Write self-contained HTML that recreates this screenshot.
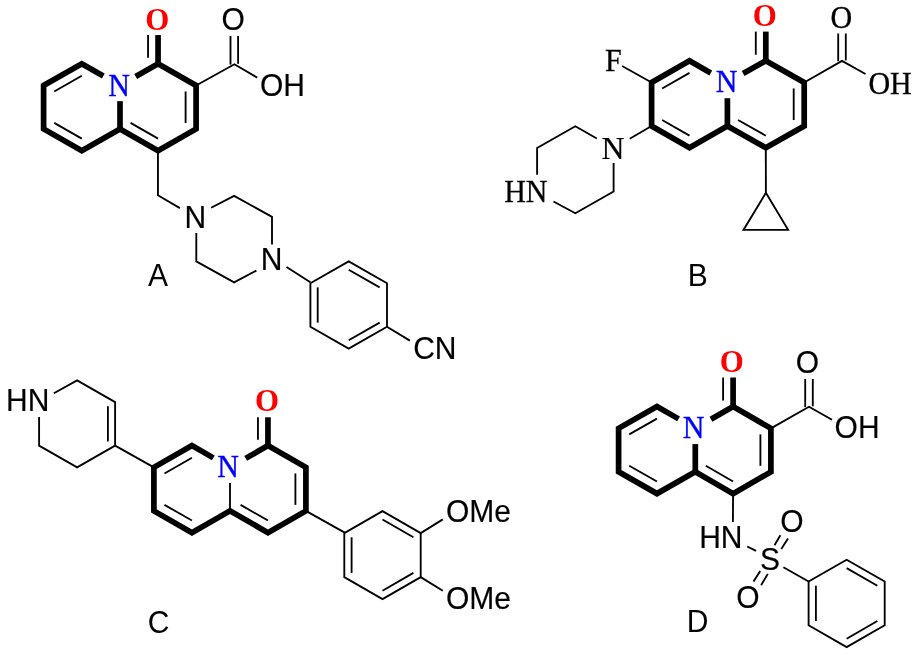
<!DOCTYPE html>
<html><head><meta charset="utf-8"><style>
html,body{margin:0;padding:0;background:#fff;}
body{width:919px;height:655px;overflow:hidden;}
svg{display:block;will-change:transform;}
path{fill:none;stroke:#000;stroke-linecap:butt;}
</style></head><body>
<svg width="919" height="655" viewBox="0 0 919 655">
<path d="M103.31 75.95 L81.8 63.7 L43.6 85.45 L43.6 128.95 L81.8 150.7 L120 128.95 L158.05 150.7 L196.1 128.95 L196.1 85.45 L158.05 63.7 L135.71 76.47" stroke-width="5.7" stroke-linejoin="miter"/>
<path d="M158.05 63.7 L158.05 35.05" stroke-width="5.7" stroke-linejoin="miter"/>
<path d="M120 101.15 L120 128.95" stroke-width="5.7" stroke-linejoin="miter"/>
<path d="M54.21 91.49 L81.8 75.78" stroke-width="1.85" stroke-linejoin="miter"/>
<path d="M54.21 122.91 L81.8 138.62" stroke-width="1.85" stroke-linejoin="miter"/>
<path d="M185.6 91.45 L185.6 122.95" stroke-width="1.85" stroke-linejoin="miter"/>
<path d="M130.58 122.9 L158.05 138.61" stroke-width="1.85" stroke-linejoin="miter"/>
<path d="M148.05 35.05 L148.05 57.7" stroke-width="1.85" stroke-linejoin="miter"/>
<text x="145.23" y="29.72" font-family="'Liberation Serif', serif" font-size="30.9" font-weight="bold" fill="#ff0000">O</text>
<text transform="translate(108.33 95.71) scale(1 1.0600)" font-family="'Liberation Serif', serif" font-size="30" fill="#0000ff" stroke="#0000ff" stroke-width="0.35">N</text>
<path d="M196.1 85.45 L234.4 64.3 L257.2 77.6" stroke-width="1.85" stroke-linejoin="miter"/>
<path d="M230.5 35.9 L230.5 64.6" stroke-width="1.85" stroke-linejoin="miter"/>
<path d="M238.1 35.9 L238.1 63.8" stroke-width="1.85" stroke-linejoin="miter"/>
<text transform="translate(221.59 30.48) scale(1 1.0300)" font-family="'Liberation Sans', sans-serif" font-size="30" fill="#000" stroke="#000" stroke-width="0.15">O</text>
<text transform="translate(260.01 96.13) scale(1 1.0300)" font-family="'Liberation Sans', sans-serif" font-size="30" fill="#000" stroke="#000" stroke-width="0.15">OH</text>
<path d="M157.95 150.7 L157.95 195.3 L179.9 208.1" stroke-width="1.85" stroke-linejoin="miter"/>
<text transform="translate(184.43 227.68) scale(1 1.0300)" font-family="'Liberation Sans', sans-serif" font-size="30" fill="#000" stroke="#000" stroke-width="0.15">N</text>
<path d="M211.1 207.7 L234.1 195.9 L272 216.9 L272 244.6" stroke-width="1.85" stroke-linejoin="miter"/>
<path d="M256.4 270.6 L234.1 282.4 L196.3 261.4 L196.3 232.9" stroke-width="1.85" stroke-linejoin="miter"/>
<text transform="translate(260.65 270.35) scale(1 1.0300)" font-family="'Liberation Sans', sans-serif" font-size="30" fill="#000" stroke="#000" stroke-width="0.15">N</text>
<path d="M286.5 267 L310.4 282.2" stroke-width="1.85" stroke-linejoin="miter"/>
<path d="M348.7 261.4 L387 283.2 L387 326.8 L348.7 348.6 L310.4 326.8 L310.4 283.2 Z" stroke-width="1.85" stroke-linejoin="miter"/>
<path d="M317.7 287.36 L317.7 322.64" stroke-width="1.85" stroke-linejoin="miter"/>
<path d="M348.7 269.8 L379.62 287.4" stroke-width="1.85" stroke-linejoin="miter"/>
<path d="M379.62 322.6 L348.7 340.2" stroke-width="1.85" stroke-linejoin="miter"/>
<path d="M386.95 326.8 L409.9 340.6" stroke-width="1.85" stroke-linejoin="miter"/>
<text transform="translate(413.14 359.23) scale(1 1.0300)" font-family="'Liberation Sans', sans-serif" font-size="30" fill="#000" stroke="#000" stroke-width="0.15">CN</text>
<text transform="translate(148.12 285.78) scale(1 1.0300)" font-family="'Liberation Sans', sans-serif" font-size="30" fill="#000">A</text>
<path d="M710.75 72.94 L689.5 60.75 L651.6 82.5 L651.6 126 L689.5 147.75 L727.4 126 L765.8 147.75 L804.2 126 L804.2 82.5 L765.8 60.75 L743.15 73.58" stroke-width="5.7" stroke-linejoin="miter"/>
<path d="M765.8 60.75 L765.8 31.6" stroke-width="5.7" stroke-linejoin="miter"/>
<path d="M727.4 98.2 L727.4 126" stroke-width="5.7" stroke-linejoin="miter"/>
<path d="M662.15 88.55 L689.5 72.86" stroke-width="1.85" stroke-linejoin="miter"/>
<path d="M662.15 119.95 L689.5 135.64" stroke-width="1.85" stroke-linejoin="miter"/>
<path d="M793.7 88.45 L793.7 120.05" stroke-width="1.85" stroke-linejoin="miter"/>
<path d="M738.05 119.97 L765.8 135.68" stroke-width="1.85" stroke-linejoin="miter"/>
<path d="M755.8 31.6 L755.8 54.75" stroke-width="1.85" stroke-linejoin="miter"/>
<text x="752.73" y="26.42" font-family="'Liberation Serif', serif" font-size="30.9" font-weight="bold" fill="#ff0000">O</text>
<text transform="translate(715.63 92.16) scale(1 1.0600)" font-family="'Liberation Serif', serif" font-size="30" fill="#0000ff" stroke="#0000ff" stroke-width="0.35">N</text>
<path d="M804.2 82.5 L842 60.9 L865.5 74" stroke-width="1.85" stroke-linejoin="miter"/>
<path d="M838.2 33.5 L838.2 61.2" stroke-width="1.85" stroke-linejoin="miter"/>
<path d="M845.8 33.5 L845.8 60.4" stroke-width="1.85" stroke-linejoin="miter"/>
<text transform="translate(830.42 27.82) scale(1 1.0500)" font-family="'Liberation Serif', serif" font-size="30" fill="#000" stroke="#000" stroke-width="0.25">O</text>
<text transform="translate(868.41 93.62) scale(1 1.0500)" font-family="'Liberation Serif', serif" font-size="30" fill="#000" stroke="#000" stroke-width="0.25">OH</text>
<path d="M622.1 66 L651.6 82.5" stroke-width="1.85" stroke-linejoin="miter"/>
<text transform="translate(605.12 70.72) scale(1 1.0500)" font-family="'Liberation Serif', serif" font-size="30" fill="#000" stroke="#000" stroke-width="0.25">F</text>
<path d="M651.6 126 L629.7 138.8" stroke-width="1.85" stroke-linejoin="miter"/>
<text transform="translate(601.42 158.62) scale(1 0.9906)" font-family="'Liberation Serif', serif" font-size="31.8" fill="#000" stroke="#000" stroke-width="0.25">N</text>
<path d="M596.8 138.5 L575.35 126.25 L537.1 148 L537.1 174.8" stroke-width="1.85" stroke-linejoin="miter"/>
<path d="M553.5 201.5 L575.35 213.25 L613.6 191.5 L613.6 163" stroke-width="1.85" stroke-linejoin="miter"/>
<text transform="translate(504.15 202.37) scale(1 1.0500)" font-family="'Liberation Serif', serif" font-size="30" fill="#000" stroke="#000" stroke-width="0.25">HN</text>
<path d="M765.8 147.75 L765.9 192.8" stroke-width="1.85" stroke-linejoin="miter"/>
<path d="M765.9 192.8 L743.5 229.9 L788.1 229.9 Z" stroke-width="1.85" stroke-linejoin="miter"/>
<text transform="translate(687.81 285.83) scale(1 1.0300)" font-family="'Liberation Sans', sans-serif" font-size="30" fill="#000">B</text>
<path d="M213.33 457.87 L191.95 445.65 L153.9 467.4 L153.9 510.9 L191.95 532.65 L230 510.9 L267.95 532.65 L305.9 510.9 L305.9 467.4 L267.95 445.65 L245.7 458.4" stroke-width="5.7" stroke-linejoin="miter"/>
<path d="M267.95 445.65 L267.95 417.3" stroke-width="5.7" stroke-linejoin="miter"/>
<path d="M230 483.1 L230 510.9" stroke-width="1.85" stroke-linejoin="miter"/>
<path d="M164.48 473.45 L191.95 457.74" stroke-width="1.85" stroke-linejoin="miter"/>
<path d="M164.48 504.85 L191.95 520.56" stroke-width="1.85" stroke-linejoin="miter"/>
<path d="M295.4 473.42 L295.4 504.88" stroke-width="1.85" stroke-linejoin="miter"/>
<path d="M240.56 504.85 L267.95 520.55" stroke-width="1.85" stroke-linejoin="miter"/>
<path d="M257.95 417.3 L257.95 439.65" stroke-width="1.85" stroke-linejoin="miter"/>
<text x="254.93" y="411.32" font-family="'Liberation Serif', serif" font-size="30.9" font-weight="bold" fill="#ff0000">O</text>
<text transform="translate(217.33 477.21) scale(1 1.0600)" font-family="'Liberation Serif', serif" font-size="30" fill="#0000ff" stroke="#0000ff" stroke-width="0.35">N</text>
<path d="M153.9 467.4 L115.1 445.6" stroke-width="1.85" stroke-linejoin="miter"/>
<path d="M53.9 393.2 L77.1 380.35 L115.1 402.1 L115.1 445.6 L77.1 467.35 L39.1 445.6 L39.1 417" stroke-width="1.85" stroke-linejoin="miter"/>
<path d="M107.9 406.22 L107.9 441.48" stroke-width="1.85" stroke-linejoin="miter"/>
<text transform="translate(6.09 411.48) scale(1 1.0300)" font-family="'Liberation Sans', sans-serif" font-size="30" fill="#000" stroke="#000" stroke-width="0.15">HN</text>
<path d="M305.9 510.9 L344.75 532.65" stroke-width="1.85" stroke-linejoin="miter"/>
<path d="M382.5 511.1 L420.7 533.1 L420.7 577.1 L382.5 599.1 L344.3 577.1 L344.3 533.1 Z" stroke-width="1.85" stroke-linejoin="miter"/>
<path d="M351.6 537.3 L351.6 572.9" stroke-width="1.85" stroke-linejoin="miter"/>
<path d="M382.5 519.52 L413.39 537.31" stroke-width="1.85" stroke-linejoin="miter"/>
<path d="M413.39 572.89 L382.5 590.68" stroke-width="1.85" stroke-linejoin="miter"/>
<path d="M420.7 533.1 L442.8 519.4" stroke-width="1.85" stroke-linejoin="miter"/>
<path d="M420.7 577.1 L442.8 590.8" stroke-width="1.85" stroke-linejoin="miter"/>
<text transform="translate(445.95 522.23) scale(1 1.0300)" font-family="'Liberation Sans', sans-serif" font-size="30" fill="#000" stroke="#000" stroke-width="0.15">OMe</text>
<text transform="translate(445.95 609.03) scale(1 1.0300)" font-family="'Liberation Sans', sans-serif" font-size="30" fill="#000" stroke="#000" stroke-width="0.15">OMe</text>
<text transform="translate(147.67 632.78) scale(1 1.0300)" font-family="'Liberation Sans', sans-serif" font-size="30" fill="#000">C</text>
<path d="M678.6 418.88 L656.95 406.6 L618.6 428.35 L618.6 471.85 L656.95 493.6 L695.3 471.85 L733.1 493.6 L770.9 471.85 L770.9 428.35 L733.1 406.6 L710.99 419.32" stroke-width="5.7" stroke-linejoin="miter"/>
<path d="M733.1 406.6 L733.1 377.5" stroke-width="5.7" stroke-linejoin="miter"/>
<path d="M695.3 444.05 L695.3 471.85" stroke-width="5.7" stroke-linejoin="miter"/>
<path d="M629.24 434.38 L656.95 418.67" stroke-width="1.85" stroke-linejoin="miter"/>
<path d="M629.24 465.82 L656.95 481.53" stroke-width="1.85" stroke-linejoin="miter"/>
<path d="M760.4 434.39 L760.4 465.81" stroke-width="1.85" stroke-linejoin="miter"/>
<path d="M705.83 465.79 L733.1 481.49" stroke-width="1.85" stroke-linejoin="miter"/>
<path d="M723.1 377.5 L723.1 400.6" stroke-width="1.85" stroke-linejoin="miter"/>
<text x="719.73" y="372.32" font-family="'Liberation Serif', serif" font-size="30.9" font-weight="bold" fill="#ff0000">O</text>
<text transform="translate(682.73 437.96) scale(1 1.0600)" font-family="'Liberation Serif', serif" font-size="30" fill="#0000ff" stroke="#0000ff" stroke-width="0.35">N</text>
<path d="M770.9 428.35 L809 406.8 L832 419.8" stroke-width="1.85" stroke-linejoin="miter"/>
<path d="M805.2 379 L805.2 407.1" stroke-width="1.85" stroke-linejoin="miter"/>
<path d="M812.8 379 L812.8 406.3" stroke-width="1.85" stroke-linejoin="miter"/>
<text transform="translate(795.64 373.28) scale(1 1.0300)" font-family="'Liberation Sans', sans-serif" font-size="30" fill="#000" stroke="#000" stroke-width="0.15">O</text>
<text transform="translate(834.61 438.23) scale(1 1.0300)" font-family="'Liberation Sans', sans-serif" font-size="30" fill="#000" stroke="#000" stroke-width="0.15">OH</text>
<path d="M733.1 493.6 L732.9 521.9" stroke-width="1.85" stroke-linejoin="miter"/>
<text transform="translate(699.18 547.73) scale(1 1.0300)" font-family="'Liberation Sans', sans-serif" font-size="30" fill="#000" stroke="#000" stroke-width="0.15">HN</text>
<path d="M747.2 546.5 L756.05 550.9" stroke-width="1.85" stroke-linejoin="miter"/>
<text transform="translate(760 570.08) scale(1 1.0300)" font-family="'Liberation Sans', sans-serif" font-size="30" fill="#000" stroke="#000" stroke-width="0.15">S</text>
<text transform="translate(780.3 532.43) scale(1 1.0300)" font-family="'Liberation Sans', sans-serif" font-size="30" fill="#000" stroke="#000" stroke-width="0.15">O</text>
<text transform="translate(736.25 607.83) scale(1 1.0300)" font-family="'Liberation Sans', sans-serif" font-size="30" fill="#000" stroke="#000" stroke-width="0.15">O</text>
<path d="M774.5 545.3 L780.4 535.25" stroke-width="1.85" stroke-linejoin="miter"/>
<path d="M781.3 549 L788 538.6" stroke-width="1.85" stroke-linejoin="miter"/>
<path d="M753.5 581.5 L760.25 570.9" stroke-width="1.85" stroke-linejoin="miter"/>
<path d="M761.1 585.3 L767.8 573.9" stroke-width="1.85" stroke-linejoin="miter"/>
<path d="M783.4 567.2 L808.6 581.45" stroke-width="1.85" stroke-linejoin="miter"/>
<path d="M846.65 559.7 L884.7 581.55 L884.7 625.25 L846.65 647.1 L808.6 625.25 L808.6 581.55 Z" stroke-width="1.85" stroke-linejoin="miter"/>
<path d="M815.9 585.74 L815.9 621.06" stroke-width="1.85" stroke-linejoin="miter"/>
<path d="M846.65 568.12 L877.37 585.76" stroke-width="1.85" stroke-linejoin="miter"/>
<path d="M877.37 621.04 L846.65 638.68" stroke-width="1.85" stroke-linejoin="miter"/>
<text transform="translate(686.76 632.28) scale(1 1.0300)" font-family="'Liberation Sans', sans-serif" font-size="30" fill="#000">D</text>
</svg></body></html>
